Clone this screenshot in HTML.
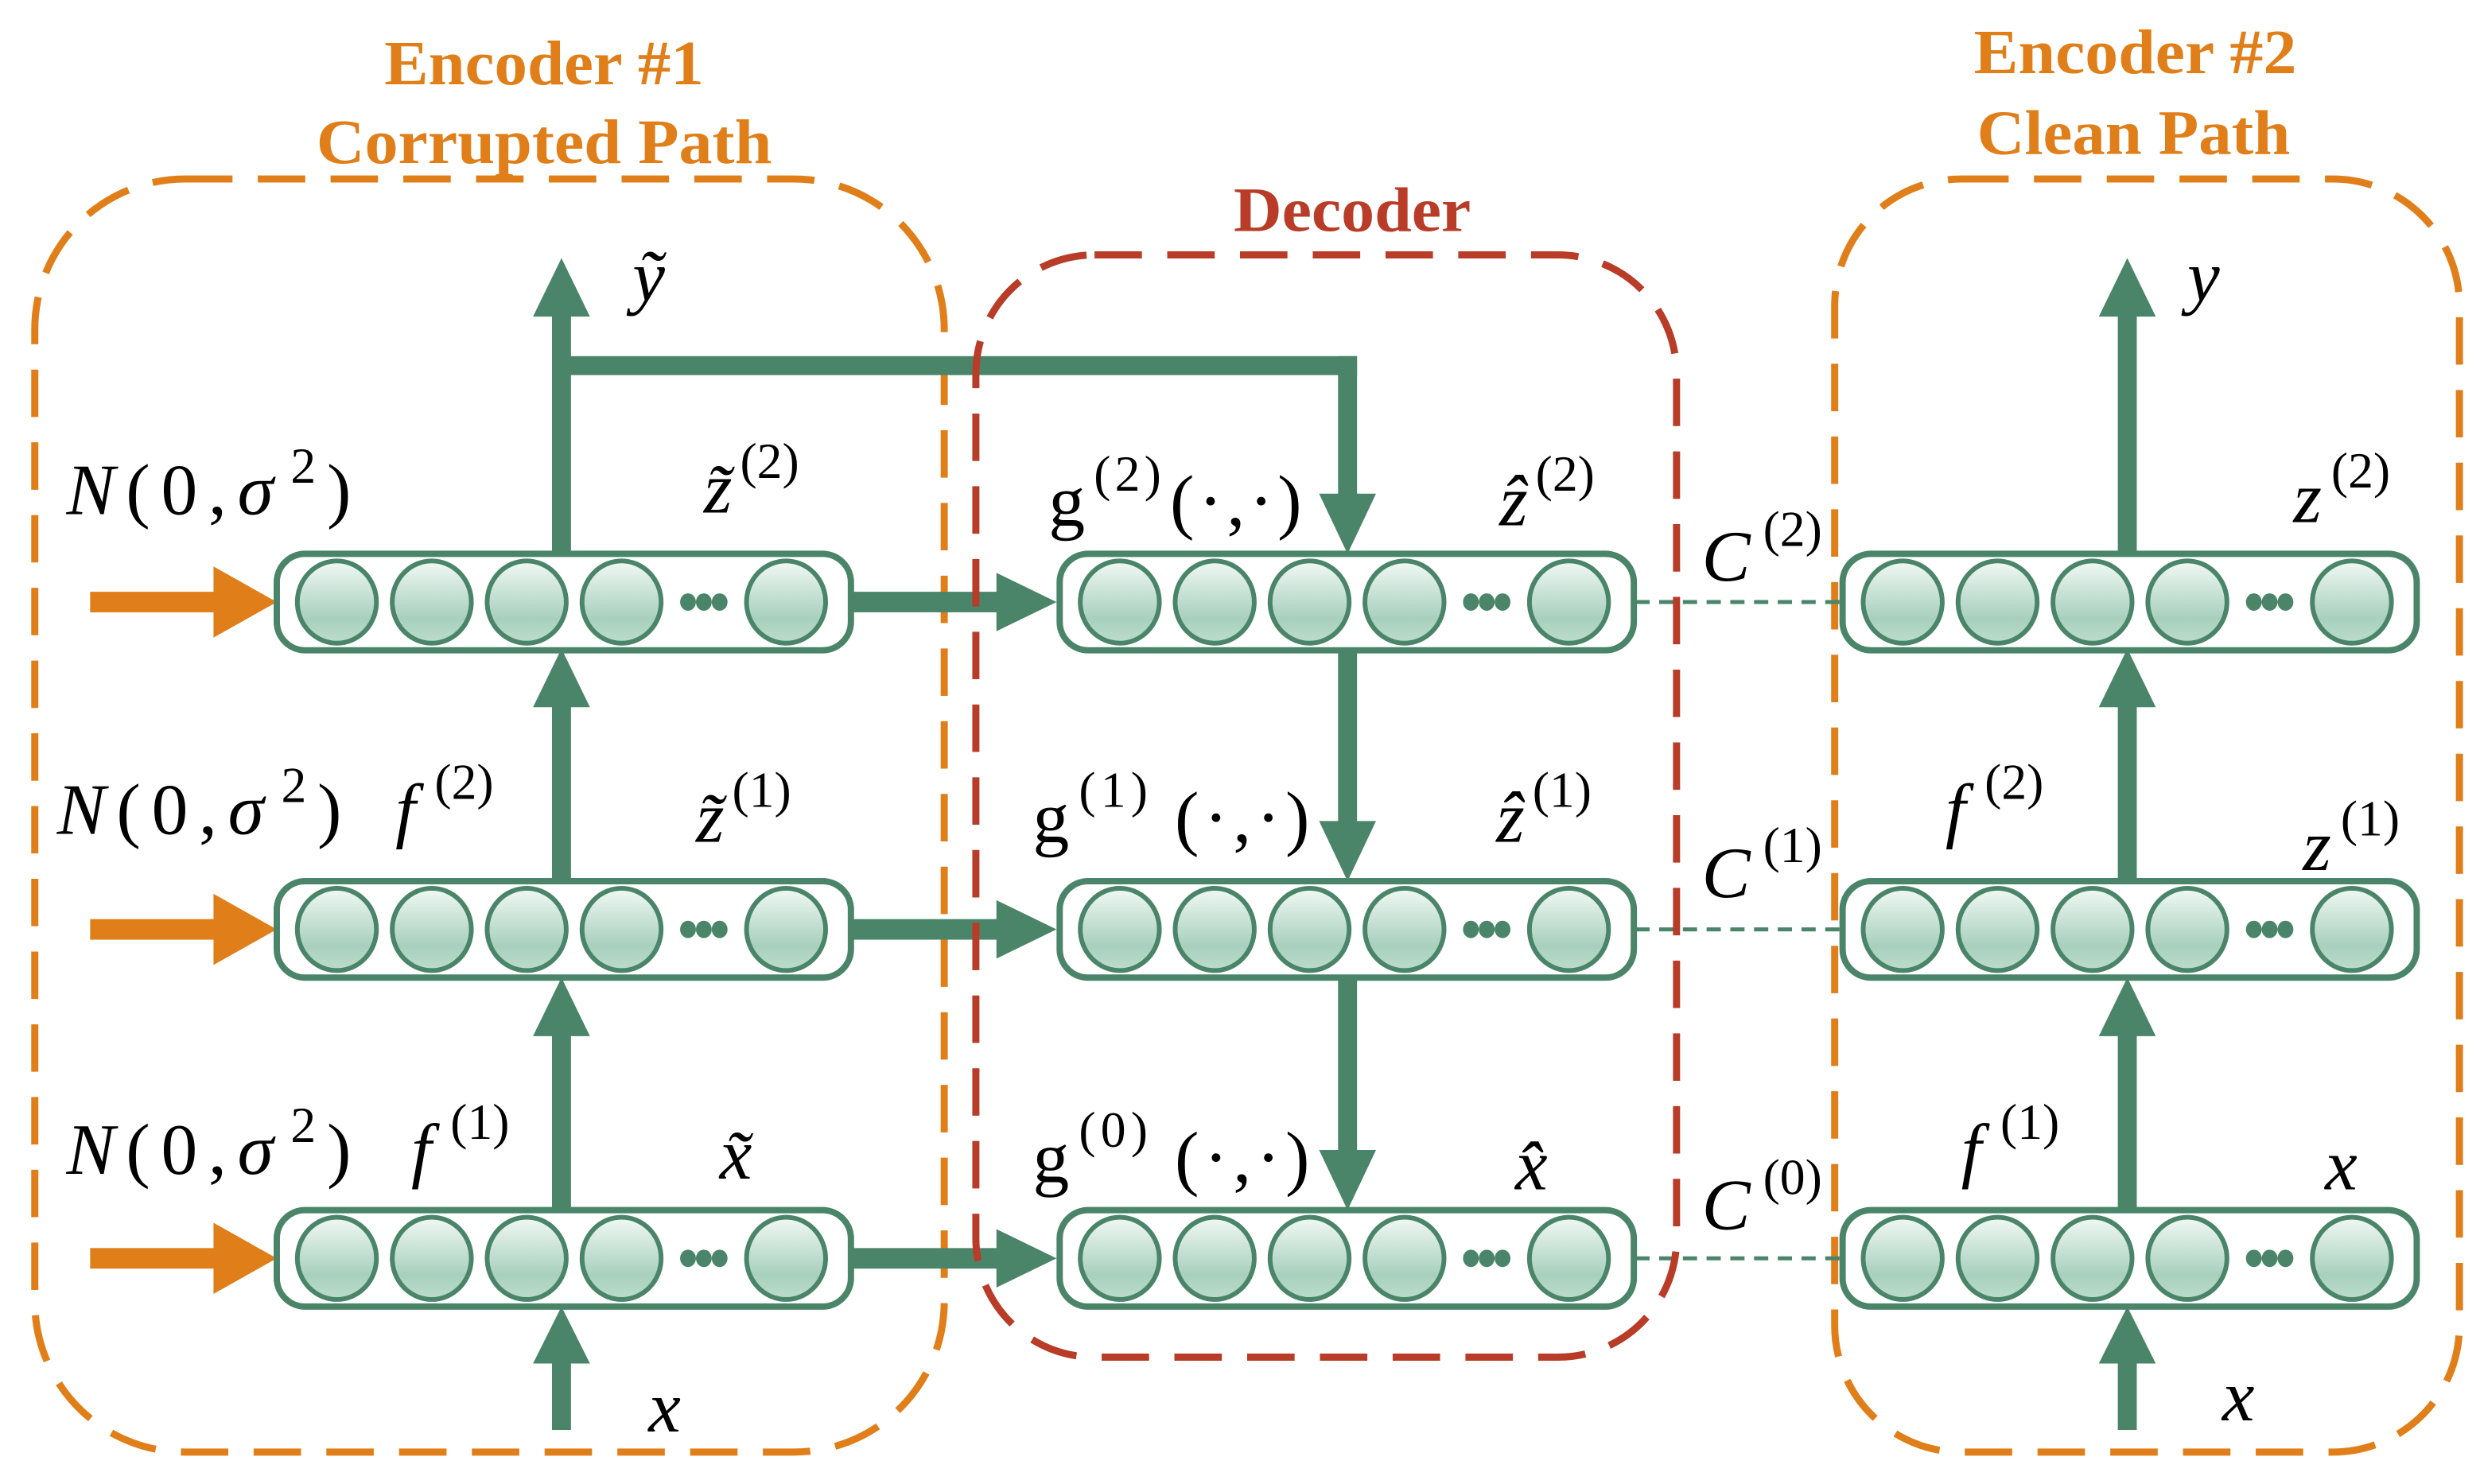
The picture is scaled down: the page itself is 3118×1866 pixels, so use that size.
<!DOCTYPE html>
<html><head><meta charset="utf-8"><style>
html,body{margin:0;padding:0;background:#fff;}
svg{display:block;}
.m{font-family:"Liberation Serif",serif;font-style:italic;font-size:46px;fill:#000;}
.r{font-family:"Liberation Serif",serif;font-size:46px;fill:#000;}
.s{font-size:32px;font-style:normal;}
.t{font-family:"Liberation Serif",serif;font-weight:bold;font-size:40px;}
</style></head><body>
<svg width="3118" height="1866" viewBox="0 0 1568 938" xmlns="http://www.w3.org/2000/svg">
<defs>
<linearGradient id="g" x1="0" y1="0" x2="0" y2="1">
<stop offset="0" stop-color="#f1f9f5"/><stop offset="0.7" stop-color="#a8d0bd"/><stop offset="1" stop-color="#bcdccc"/>
</linearGradient>
<g id="L">
<rect x="0" y="0" width="363" height="61" rx="18" fill="#fff" stroke="#4a8569" stroke-width="4"/>
<g fill="url(#g)" stroke="#4a8569" stroke-width="3">
<ellipse cx="38" cy="30.5" rx="25" ry="26"/><ellipse cx="98" cy="30.5" rx="25" ry="26"/>
<ellipse cx="158" cy="30.5" rx="25" ry="26"/><ellipse cx="218" cy="30.5" rx="25" ry="26"/>
<ellipse cx="322" cy="30.5" rx="25" ry="26"/></g>
<g fill="#4a8569"><ellipse cx="260" cy="30.5" rx="5" ry="5.5"/><ellipse cx="270" cy="30.5" rx="5" ry="5.5"/><ellipse cx="280" cy="30.5" rx="5" ry="5.5"/></g>
</g>
</defs>

<rect x="22" y="113" width="575" height="805" rx="95" fill="none" stroke="#e07f1a" stroke-width="4.5" stroke-dasharray="30,16"/>
<rect x="1160" y="113" width="395" height="805" rx="80" fill="none" stroke="#e07f1a" stroke-width="4.5" stroke-dasharray="30,16"/>

<text class="t" x="243" y="53" textLength="202" lengthAdjust="spacingAndGlyphs" fill="#e07f1a">Encoder #1</text>
<text class="t" x="200" y="103" textLength="288" lengthAdjust="spacingAndGlyphs" fill="#e07f1a">Corrupted Path</text>
<text class="t" x="1248" y="46" textLength="204" lengthAdjust="spacingAndGlyphs" fill="#e07f1a">Encoder #2</text>
<text class="t" x="1250" y="97" textLength="198" lengthAdjust="spacingAndGlyphs" fill="#e07f1a">Clean Path</text>
<text class="t" x="780" y="146" textLength="150" lengthAdjust="spacingAndGlyphs" fill="#b83c27">Decoder</text>

<g fill="#e07f1a">
<rect x="57" y="374" width="80" height="13"/><polygon points="135,358 175,380.5 135,403"/>
<rect x="57" y="581" width="80" height="13"/><polygon points="135,565 175,587.5 135,610"/>
<rect x="57" y="789" width="80" height="13"/><polygon points="135,773 175,795.5 135,818"/>
</g>

<g fill="#4a8569">
<rect x="349" y="860" width="12" height="44"/><polygon points="337,862 373,862 355,826"/>
<rect x="349" y="652" width="12" height="113"/><polygon points="337,655 373,655 355,618"/>
<rect x="349" y="445" width="12" height="112"/><polygon points="337,447 373,447 355,410"/>
<rect x="349" y="197" width="12" height="153"/><polygon points="337,200 373,200 355,163"/>
<rect x="349" y="225" width="509" height="12"/>
<rect x="846" y="225" width="12" height="90"/><polygon points="834,312 870,312 852,350"/>
<rect x="538" y="374" width="95" height="13"/><polygon points="630,362 668,380.5 630,399"/>
<rect x="538" y="581" width="95" height="13"/><polygon points="630,569 668,587.5 630,606"/>
<rect x="538" y="789" width="95" height="13"/><polygon points="630,777 668,795.5 630,814"/>
<rect x="846" y="410" width="12" height="112"/><polygon points="834,519 870,519 852,557"/>
<rect x="846" y="618" width="12" height="112"/><polygon points="834,727 870,727 852,765"/>
<rect x="1339" y="860" width="12" height="44"/><polygon points="1327,862 1363,862 1345,826"/>
<rect x="1339" y="652" width="12" height="113"/><polygon points="1327,655 1363,655 1345,618"/>
<rect x="1339" y="445" width="12" height="112"/><polygon points="1327,447 1363,447 1345,410"/>
<rect x="1339" y="197" width="12" height="153"/><polygon points="1327,200 1363,200 1345,163"/>
</g>

<g stroke="#4a8569" stroke-width="2.5" stroke-dasharray="9,6">
<line x1="1034" y1="380.5" x2="1165" y2="380.5"/>
<line x1="1034" y1="587.5" x2="1165" y2="587.5"/>
<line x1="1034" y1="795.5" x2="1165" y2="795.5"/>
</g>

<use href="#L" x="175" y="350"/><use href="#L" x="175" y="557"/><use href="#L" x="175" y="765"/>
<use href="#L" x="670" y="350"/><use href="#L" x="670" y="557"/><use href="#L" x="670" y="765"/>
<use href="#L" x="1165" y="350"/><use href="#L" x="1165" y="557"/><use href="#L" x="1165" y="765"/>

<rect x="617" y="161" width="443" height="697" rx="75" fill="none" stroke="#b83c27" stroke-width="4.5" stroke-dasharray="30,16"/>

<!-- enc1 labels -->
<text class="m" x="42" y="325" textLength="180" lengthAdjust="spacing">N<tspan font-style="normal">(0,</tspan>σ<tspan class="s" dy="-20" dx="4">2</tspan><tspan dy="20" font-style="normal">)</tspan></text>
<text class="m" x="36" y="527" textLength="180" lengthAdjust="spacing">N<tspan font-style="normal">(0,</tspan>σ<tspan class="s" dy="-20" dx="4">2</tspan><tspan dy="20" font-style="normal">)</tspan></text>
<text class="m" x="42" y="742" textLength="180" lengthAdjust="spacing">N<tspan font-style="normal">(0,</tspan>σ<tspan class="s" dy="-20" dx="4">2</tspan><tspan dy="20" font-style="normal">)</tspan></text>
<text class="m" x="400" y="190">ỹ</text>
<text class="m" x="445" y="324">z̃<tspan class="s" dy="-22" dx="5">(2)</tspan></text>
<text class="m" x="250" y="527">f<tspan class="s" dy="-22" dx="12">(2)</tspan></text>
<text class="m" x="440" y="532">z̃<tspan class="s" dy="-22" dx="5">(1)</tspan></text>
<text class="m" x="260" y="742">f<tspan class="s" dy="-22" dx="12">(1)</tspan></text>
<text class="m" x="455" y="745">x̃</text>
<text class="m" x="410" y="905">x</text>

<!-- decoder labels -->
<text class="r" x="663" y="332" textLength="160" lengthAdjust="spacing">g<tspan class="s" dy="-22" dx="3">(2)</tspan><tspan dy="22" dx="3">(·,·)</tspan></text>
<text class="m" x="948" y="332">ẑ<tspan class="s" dy="-22" dx="5">(2)</tspan></text>
<text class="r" x="653" y="532" textLength="175" lengthAdjust="spacing">g<tspan class="s" dy="-22" dx="3">(1)</tspan><tspan dy="22" dx="14">(·,·)</tspan></text>
<text class="m" x="946" y="532">ẑ<tspan class="s" dy="-22" dx="5">(1)</tspan></text>
<text class="r" x="653" y="747" textLength="175" lengthAdjust="spacing">g<tspan class="s" dy="-22" dx="3">(0)</tspan><tspan dy="22" dx="14">(·,·)</tspan></text>
<text class="m" x="958" y="752">x̂</text>

<text class="m" x="1076" y="367">C<tspan class="s" dy="-22" dx="8">(2)</tspan></text>
<text class="m" x="1076" y="567">C<tspan class="s" dy="-22" dx="8">(1)</tspan></text>
<text class="m" x="1076" y="777">C<tspan class="s" dy="-22" dx="8">(0)</tspan></text>

<!-- enc2 labels -->
<text class="m" x="1383" y="190">y</text>
<text class="m" x="1450" y="330">z<tspan class="s" dy="-22" dx="6">(2)</tspan></text>
<text class="m" x="1230" y="527">f<tspan class="s" dy="-22" dx="12">(2)</tspan></text>
<text class="m" x="1456" y="550">z<tspan class="s" dy="-22" dx="6">(1)</tspan></text>
<text class="m" x="1240" y="742">f<tspan class="s" dy="-22" dx="12">(1)</tspan></text>
<text class="m" x="1470" y="752">x</text>
<text class="m" x="1405" y="898">x</text>
</svg>
</body></html>
